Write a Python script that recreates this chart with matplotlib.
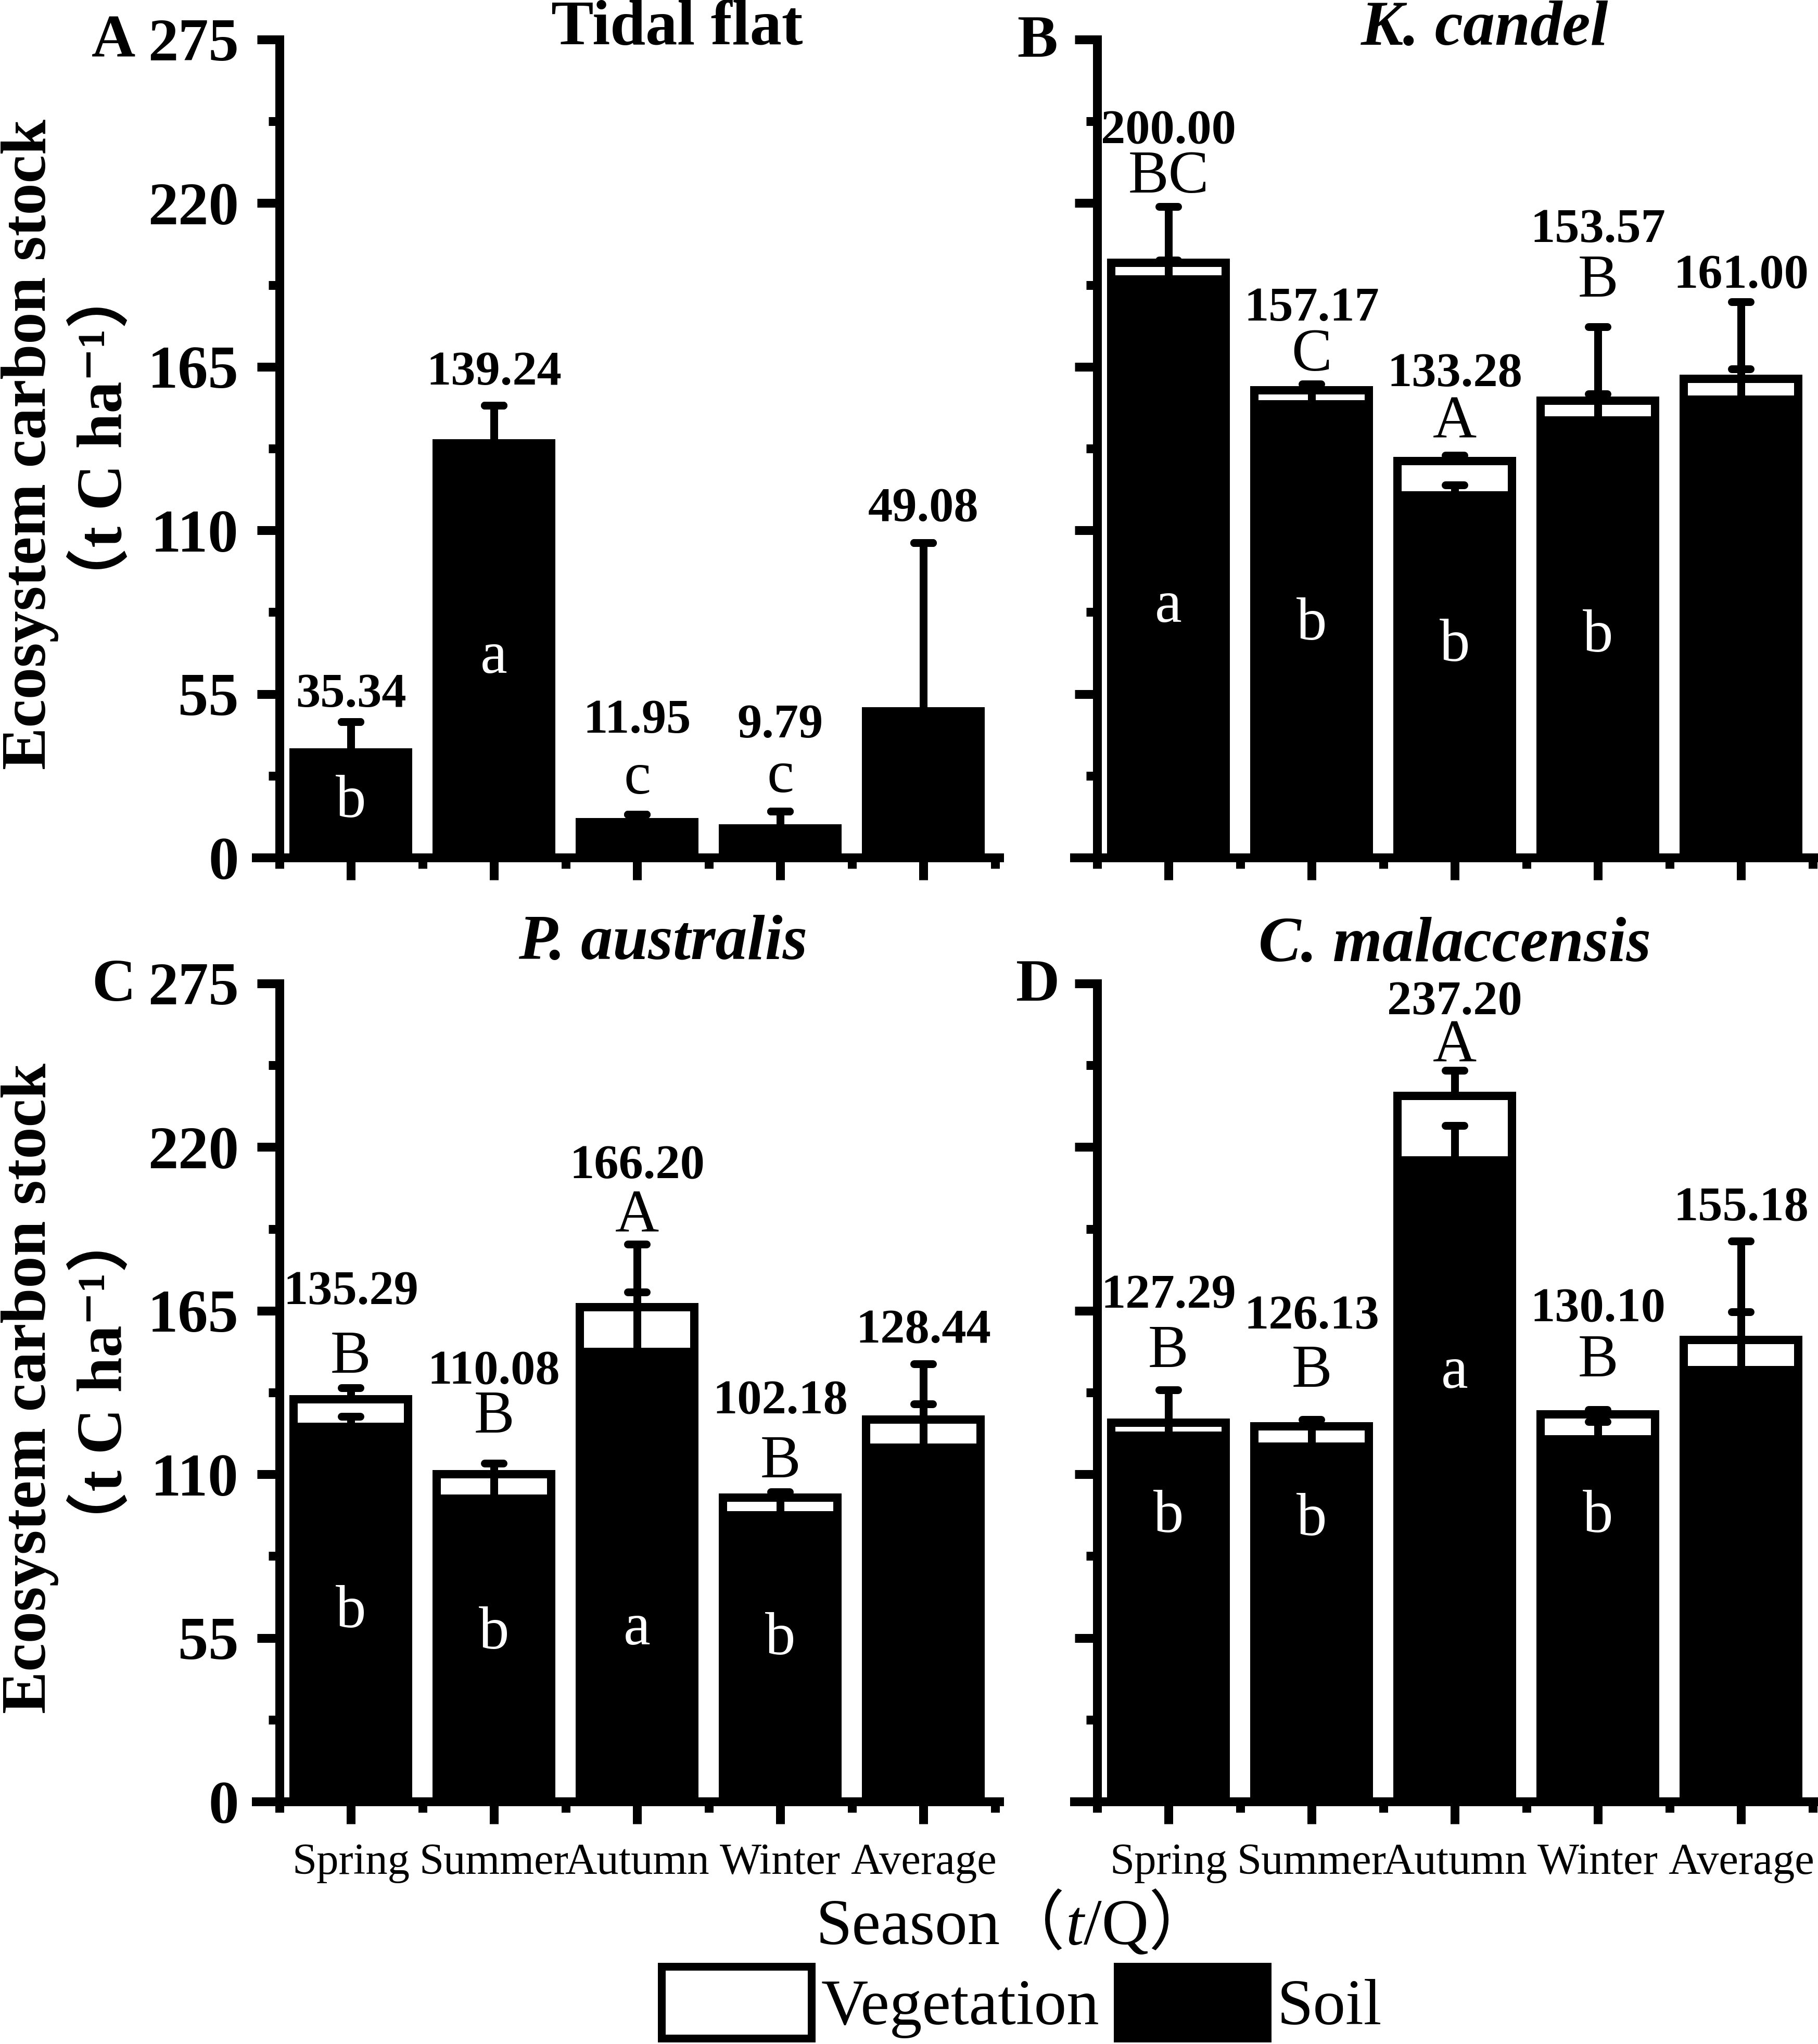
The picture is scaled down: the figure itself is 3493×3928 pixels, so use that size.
import numpy as np
import matplotlib.pyplot as plt
from matplotlib.patches import Patch
from matplotlib.offsetbox import TextArea, HPacker, AnnotationBbox

plt.rcParams['font.family'] = ['Liberation Serif', 'Noto Sans CJK SC', 'DejaVu Serif']

seasons = ["Spring", "Summer", "Autumn", "Winter", "Average"]
titles = ["Tidal flat", "K. candel", "P. australis", "C. malaccensis"]
panel_ids = ["A", "B", "C", "D"]

# total ecosystem stock (number printed above each bar)
total_A = [35.34, 139.24, 11.95, 9.79, 49.08]
total_B = [200.00, 157.17, 133.28, 153.57, 161.00]
total_C = [135.29, 110.08, 166.20, 102.18, 128.44]
total_D = [127.29, 126.13, 237.20, 130.10, 155.18]

# soil part (black); the tidal flat has no vegetation
soil_A = [35.34, 139.24, 11.95, 9.79, 49.08]
soil_B = [194.4, 152.3, 121.8, 146.9, 153.9]
soil_C = [125.9, 101.9, 151.1, 96.3, 118.9]
soil_D = [122.9, 119.3, 215.5, 121.7, 145.0]

# upper error bars
soil_err_A = [10.3, 12.8, 2.5, 5.7, 56.8]
soil_err_B = [6.5, 5.0, 3.4, 9.0, 10.4]
soil_err_C = [3.6, 8.2, 20.1, 5.9, 14.7]
soil_err_D = [4.4, 6.8, 11.8, 6.0, 19.6]
total_err_A = [10.3, 12.8, 2.5, 5.7, 56.8]
total_err_B = [18.8, 2.0, 2.0, 24.8, 25.8]
total_err_C = [3.7, 3.7, 21.1, 1.9, 18.6]
total_err_D = [11.1, 2.2, 8.6, 1.7, 33.3]

# significance letters
upper_A = ["", "", "c", "c", ""]
upper_B = ["BC", "C", "A", "B", ""]
upper_C = ["B", "B", "A", "B", ""]
upper_D = ["B", "B", "A", "B", ""]
inner_A = ["b", "a", "", "", ""]
inner_B = ["a", "b", "b", "b", ""]
inner_C = ["b", "b", "a", "b", ""]
inner_D = ["b", "b", "a", "b", ""]

panels = [
    (total_A, soil_A, soil_err_A, total_err_A, upper_A, inner_A),
    (total_B, soil_B, soil_err_B, total_err_B, upper_B, inner_B),
    (total_C, soil_C, soil_err_C, total_err_C, upper_C, inner_C),
    (total_D, soil_D, soil_err_D, total_err_D, upper_D, inner_D),
]

# ---- layout (pixels of the 3493x3928 output, text heights in y units) ----
W, H = 3493, 3928
ax_left = [492.5, 2063.5, 492.5, 2063.5]
ax_base = [1648, 1648, 3462, 3462]
AX_W, AX_H = 1427.5, 1572
value_y = [[54.6, 163, 46.0, 44.3, 117], [244, 184.4, 162.3, 210.8, 195.4],
           [171.2, 144.4, 213.5, 134.4, 158.1], [170, 162.9, 268.6, 165.4, 199.2]]
upper_y = [[0, 0, 26.5, 27.0, 0], [228.5, 168.7, 145.9, 193.4, 0],
           [149.1, 128.9, 196.4, 113.8, 0], [150.9, 144.4, 253.5, 147.9, 0]]
inner_y = [[18.5, 67, 0, 0, 0], [84.2, 78.2, 71.1, 74.1, 0],
           [63.5, 56.4, 57.7, 54.4, 0], [95.6, 94.5, 144, 95.6, 0]]
title_xy = [(2.28, 273.4), (2.21, 273.3), (2.18, 283.2), (2.0, 282.5)]
id_dx = [-276, -76, -276, -71]


def pt(px):
    return px * 0.72


LW = pt(16)

fig = plt.figure(figsize=(W / 100, H / 100), dpi=100)

for p in range(4):
    total, soil, soil_err, total_err, upper, inner = panels[p]
    ax = fig.add_axes([ax_left[p] / W, 1 - ax_base[p] / H, AX_W / W, AX_H / H])
    x = np.arange(len(seasons))
    soil = np.array(soil)
    veg = np.array(total) - soil

    ax.bar(x, soil, width=0.8, color='black', edgecolor='black', linewidth=LW, zorder=2)
    ax.bar(x, veg, bottom=soil, width=0.8, color='white', edgecolor='black',
           linewidth=LW, zorder=2)

    # error bars with rounded caps
    for base, err in [(soil, soil_err), (np.array(total), total_err)]:
        top = base + np.array(err)
        ax.vlines(x, base, top, colors='black', lw=pt(15), zorder=3)
        ax.hlines(top, x - 0.065, x + 0.065, colors='black', lw=pt(15),
                  capstyle='round', zorder=3)

    for i in range(len(seasons)):
        ax.text(i, value_y[p][i], f"{total[i]:.2f}", ha='center', va='center',
                fontsize=68, fontweight='bold')
        if upper[i]:
            ax.text(i, upper_y[p][i], upper[i], ha='center', va='center', fontsize=84)
        if inner[i]:
            ax.text(i, inner_y[p][i], inner[i], color='white', ha='center',
                    va='center', fontsize=84, zorder=4)

    ax.text(title_xy[p][0], title_xy[p][1], titles[p], ha='center', va='baseline',
            fontsize=88, fontweight='bold', fontstyle='normal' if p == 0 else 'italic')
    ax.annotate(panel_ids[p], (-0.5, 275), xytext=(pt(id_dx[p]), pt(-5)),
                textcoords='offset points', ha='right', va='center',
                fontsize=84, fontweight='bold', annotation_clip=False)

    ax.spines[['top', 'right']].set_visible(False)
    ax.spines['left'].set_position(('data', -0.5))
    for s in ['left', 'bottom']:
        ax.spines[s].set_linewidth(pt(17))
    ax.set_xlim(-0.66, 4.53)
    ax.set_ylim(0, 275)
    ax.set_xticks(np.arange(-0.5, 5, 1), minor=True)
    ax.set_yticks(np.arange(27.5, 275, 55), minor=True)
    yt = np.arange(0, 276, 55)
    ax.set_yticks(yt, labels=[str(v) for v in yt], fontsize=84, fontweight='bold')
    ax.set_xticks(x, labels=seasons, fontsize=61)
    ax.tick_params(which='major', direction='out', length=pt(43), width=pt(17))
    ax.tick_params(which='minor', direction='out', length=pt(21), width=pt(17))
    ax.tick_params(axis='y', pad=pt(35))
    ax.tick_params(axis='x', pad=pt(37))
    if p % 2 == 1:
        ax.tick_params(axis='y', labelleft=False)
    if p < 2:
        ax.tick_params(axis='x', labelbottom=False)

    if p % 2 == 0:
        cy = ax_base[p] - AX_H / 2
        fig.text(58 / W, 1 - (cy - 8) / H, "Ecosystem carbon stock", rotation=90,
                 ha='center', va='center', fontsize=88, fontweight='bold')
        fig.text(200 / W, 1 - (cy - 20) / H, "（t C ha⁻¹）", rotation=90,
                 ha='center', va='center', fontsize=88, fontweight='bold')

# x axis title with italic t
tp = dict(fontsize=90)
parts = [TextArea("Season（", textprops=tp),
         TextArea("t", textprops=dict(tp, style='italic')),
         TextArea("/Q）", textprops=tp)]
box = HPacker(children=parts, align='baseline', pad=0, sep=0)
fig.add_artist(AnnotationBbox(box, (1950 / W, 1 - 3700 / H), xycoords='figure fraction',
                              frameon=False, box_alignment=(0.5, 0.5)))

handles = [Patch(facecolor='white', edgecolor='black', linewidth=pt(15), label='Vegetation'),
           Patch(facecolor='black', edgecolor='black', linewidth=pt(15), label='Soil')]
fig.legend(handles=handles, loc='center', bbox_to_anchor=(1963 / W, 1 - 3848 / H), ncol=2,
           frameon=False, fontsize=90, handlelength=2.3, handleheight=1.32,
           handletextpad=0.15, columnspacing=0.28, borderpad=0, borderaxespad=0)

fig.savefig("out.png", dpi=100)
